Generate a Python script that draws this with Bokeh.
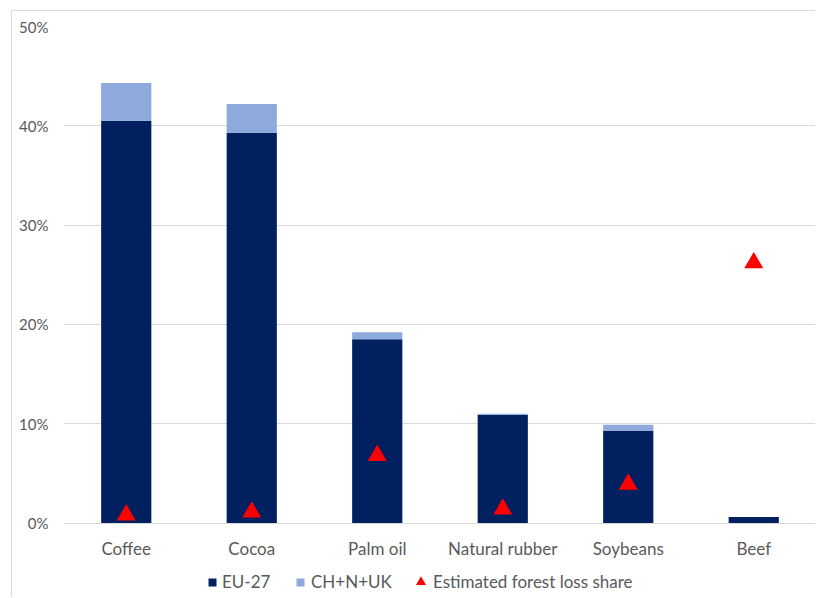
from bokeh.plotting import figure
from bokeh.models import (ColumnDataSource, Legend, LegendItem, NumeralTickFormatter,
                          FixedTicker, Range1d)
from bokeh.core.properties import value
from bokeh.embed import file_html
from bokeh.resources import INLINE

# Share of global imports (fraction) by commodity
commodities = ["Coffee", "Cocoa", "Palm oil", "Natural rubber", "Soybeans", "Beef"]
eu27 = [0.405, 0.393, 0.185, 0.109, 0.093, 0.006]
ch_n_uk = [0.038, 0.029, 0.007, 0.001, 0.006, 0.0]
forest_loss = [0.008, 0.011, 0.068, 0.014, 0.039, 0.262]
y_ticks = [0, 0.1, 0.2, 0.3, 0.4, 0.5]

DARK = "#002060"
LIGHT = "#8EA9DB"
RED = "#FF0000"
GRID = "#D9D9D9"
TEXT = "#595959"
FONT = "Lato"

src = ColumnDataSource(dict(
    commodity=commodities,
    eu27=eu27,
    ch_n_uk=ch_n_uk,
    forest_loss=forest_loss,
))

# the frame reaches down to the bottom of the canvas so that the category
# labels and the legend live inside it, under the zero line
p = figure(
    x_range=commodities, y_range=Range1d(-0.076, 0.5),
    width=804, height=587,
    min_border_left=51, min_border_right=0, min_border_top=15, min_border_bottom=0,
    output_backend="svg", toolbar_location=None,
    background_fill_color="white", border_fill_color="white",
)
p.margin = (10, 0, 0, 11)
p.styles = {"border-left": f"1px solid {GRID}", "border-top": f"1px solid {GRID}"}
p.outline_line_color = None

stack = p.vbar_stack(["eu27", "ch_n_uk"], x="commodity", width=0.4, source=src,
                     color=[DARK, LIGHT], line_color=None)
tri = p.scatter(x="commodity", y="forest_loss", source=src, marker="triangle",
                size=19, fill_color=RED, line_color=None)

# category labels under the zero line
p.text(x="commodity", y=0, text="commodity", source=src,
       text_align="center", text_baseline="middle", y_offset=25,
       text_font=value(FONT), text_font_size="17px", text_color=TEXT)

# axes
p.xaxis.visible = False
p.yaxis.ticker = FixedTicker(ticks=y_ticks)
p.yaxis.formatter = NumeralTickFormatter(format="0%")
ax = p.yaxis[0]
ax.axis_line_color = None
ax.major_tick_line_color = None
ax.minor_tick_line_color = None
ax.major_tick_out = 0
ax.major_tick_in = 0
ax.major_label_text_color = TEXT
ax.major_label_text_font = FONT
ax.major_label_text_font_size = "15px"
ax.major_label_standoff = 15

p.xgrid.grid_line_color = None
p.ygrid.ticker = FixedTicker(ticks=y_ticks)
p.ygrid.grid_line_color = GRID
p.ygrid.grid_line_width = 1


def make_legend(label, renderers, x, y, glyph, standoff):
    leg = Legend(
        items=[LegendItem(label=label, renderers=renderers)],
        location=(x, y), orientation="horizontal",
        padding=0, margin=0, spacing=0,
        glyph_width=glyph, glyph_height=glyph,
        label_height=20, label_standoff=standoff,
        label_text_font=FONT, label_text_font_size="17px",
        label_text_color=TEXT,
        border_line_color=None, background_fill_alpha=0,
    )
    p.add_layout(leg, "center")


make_legend("EU-27", [stack[0]], 144, 6, 10, 5)
make_legend("CH+N+UK", [stack[1]], 232, 6, 10, 6)
make_legend("Estimated forest loss share", [tri], 345, 4, 25, 0)

open("out.html", "w").write(file_html(p, INLINE))
